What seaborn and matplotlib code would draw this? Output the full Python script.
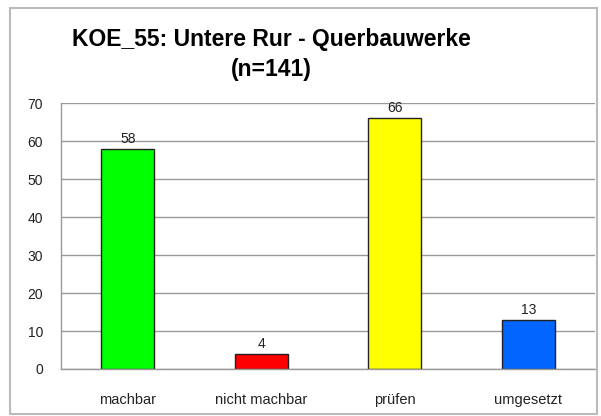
import matplotlib
matplotlib.use("Agg")
import matplotlib.pyplot as plt
import seaborn as sns
import pandas as pd
from matplotlib.patches import Rectangle

categories = ["machbar", "nicht machbar", "prüfen", "umgesetzt"]
values = [58, 4, 66, 13]
colors = ["#00ff00", "#ff0000", "#ffff00", "#0066ff"]

df = pd.DataFrame({"Kategorie": categories, "Anzahl": values})

sns.set_style("white")
plt.rcParams["font.family"] = ["Liberation Sans", "DejaVu Sans"]
plt.rcParams["text.color"] = "black"
plt.rcParams["xtick.color"] = "black"
plt.rcParams["ytick.color"] = "black"

fig = plt.figure(figsize=(6.01, 4.16), dpi=100)
ax = fig.add_axes([0.1015, 0.113, 0.8885, 0.639])

sns.barplot(data=df, x="Kategorie", y="Anzahl", hue="Kategorie", palette=colors, saturation=1,
            width=0.4, edgecolor="#222222", linewidth=1, legend=False, ax=ax)

for i, v in enumerate(values):
    ax.text(i, v + 0.8, str(v), ha="center", va="bottom", fontsize=10, color="#222222")

ax.set_ylim(0, 70)
ax.set_xlim(-0.5, 3.5)
ax.set_yticks(range(0, 71, 10))
ax.yaxis.grid(True, color="#999999", linewidth=1)
ax.set_axisbelow(True)
ax.set_xlabel("")
ax.set_ylabel("")
ax.set_xticks([0, 1, 2, 3])
ax.set_xticklabels(categories, fontsize=10.5)
ax.set_xticks([-0.5, 0.5, 1.5, 2.5, 3.5], minor=True)
ax.tick_params(axis="x", which="major", length=0, pad=17, colors="#222222")
ax.tick_params(axis="x", which="minor", length=5, color="#999999", direction="out")
ax.tick_params(axis="y", length=5, color="#999999", labelcolor="#222222", direction="out",
               labelsize=10, pad=8)
for s in ["top", "right"]:
    ax.spines[s].set_visible(False)
for s in ["left", "bottom"]:
    ax.spines[s].set_color("#999999")
    ax.spines[s].set_linewidth(1)

fig.text(0.451, 0.904, "KOE_55: Untere Rur - Querbauwerke", ha="center", va="center",
         fontsize=16.5, fontweight="bold", color="black")
fig.text(0.451, 0.832, "(n=141)", ha="center", va="center",
         fontsize=16.5, fontweight="bold", color="black")

fig.patches.append(Rectangle((10 / 601, 2 / 416), 587 / 601, 406 / 416, transform=fig.transFigure,
                             fill=False, edgecolor="#bbbbbb", linewidth=1.5))

fig.savefig("out.png", dpi=100)
